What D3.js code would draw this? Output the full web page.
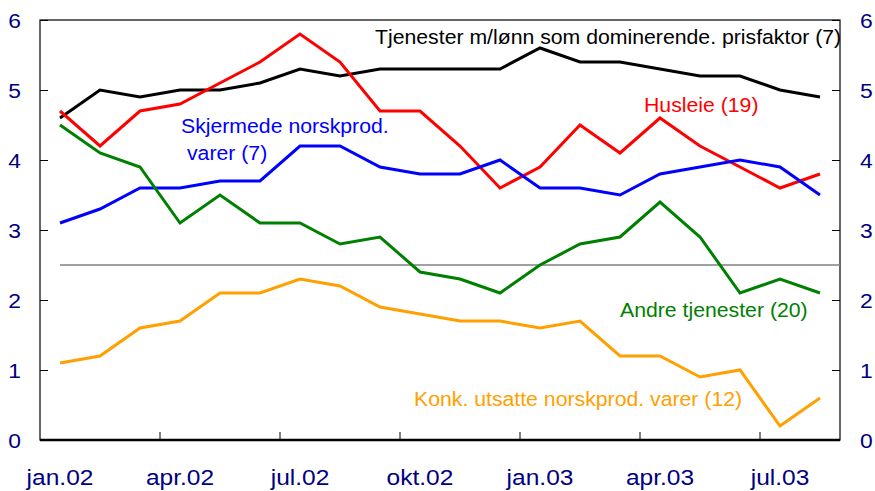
<!DOCTYPE html>
<html>
<head>
<meta charset="utf-8">
<script src="https://cdn.jsdelivr.net/npm/d3@7"></script>
<style>
  body { margin: 0; background: #fff; }
  text { font-family: "Liberation Sans", Arial, sans-serif; }
</style>
</head>
<body>
<div id="wrapper"></div>
<script>
const months = ['jan.02','feb.02','mar.02','apr.02','mai.02','jun.02','jul.02','aug.02','sep.02','okt.02','nov.02','des.02',
                'jan.03','feb.03','mar.03','apr.03','mai.03','jun.03','jul.03','aug.03'];
const tickLabels = ['jan.02','apr.02','jul.02','okt.02','jan.03','apr.03','jul.03'];
const yTicks = [0, 1, 2, 3, 4, 5, 6];
const refLevel = 2.5;

const tjenesterLonn = [4.6,5.0,4.9,5.0,5.0,5.1,5.3,5.2,5.3,5.3,5.3,5.3,5.6,5.4,5.4,5.3,5.2,5.2,5.0,4.9];
const husleie       = [4.7,4.2,4.7,4.8,5.1,5.4,5.8,5.4,4.7,4.7,4.2,3.6,3.9,4.5,4.1,4.6,4.2,3.9,3.6,3.8];
const skjermede     = [3.1,3.3,3.6,3.6,3.7,3.7,4.2,4.2,3.9,3.8,3.8,4.0,3.6,3.6,3.5,3.8,3.9,4.0,3.9,3.5];
const andreTjen     = [4.5,4.1,3.9,3.1,3.5,3.1,3.1,2.8,2.9,2.4,2.3,2.1,2.5,2.8,2.9,3.4,2.9,2.1,2.3,2.1];
const konkUtsatte   = [1.1,1.2,1.6,1.7,2.1,2.1,2.3,2.2,1.9,1.8,1.7,1.7,1.6,1.7,1.2,1.2,0.9,1.0,0.2,0.6];

const series = [
    { values: tjenesterLonn, color: '#000000' },
    { values: husleie,       color: '#ff0000' },
    { values: skjermede,     color: '#0000ff' },
    { values: andreTjen,     color: '#008000' },
    { values: konkUtsatte,   color: '#ffa000' }
];

const labels = [
    { text: 'Tjenester m/lønn som dominerende. prisfaktor (7)', x: 375, y: 44, color: '#000000' },
    { text: 'Husleie (19)', x: 644, y: 112, color: '#ff0000' },
    { text: 'Skjermede norskprod.', x: 181, y: 133, color: '#0000ff' },
    { text: 'varer (7)', x: 187, y: 160, color: '#0000ff' },
    { text: 'Andre tjenester (20)', x: 620, y: 317, color: '#008000' },
    { text: 'Konk. utsatte norskprod. varer (12)', x: 414, y: 406, color: '#ffa000' }
];

const dimensions = {
    width: 875,
    height: 491,
    margin: { top: 20, right: 35, bottom: 51, left: 40 }
};
dimensions.boundWidth = dimensions.width - dimensions.margin.left - dimensions.margin.right;
dimensions.boundHeight = dimensions.height - dimensions.margin.top - dimensions.margin.bottom;

const axisColor = '#000080';
// the original's text is a little wider than Liberation Sans
const stretch = 1.09;
const place = (x, y) => `translate(${x},${y}) scale(${stretch},1)`;

const svg = d3.select('#wrapper')
    .append('svg')
    .attr('width', dimensions.width)
    .attr('height', dimensions.height);

const bounds = svg.append('g')
    .attr('transform', `translate(${dimensions.margin.left},${dimensions.margin.top})`);

const xScale = d3.scaleBand()
    .domain(months)
    .range([0, dimensions.boundWidth])
    .padding(0);

const yScale = d3.scaleLinear()
    .domain([0, 6])
    .range([dimensions.boundHeight, 0]);

const xCenter = m => xScale(m) + xScale.bandwidth() / 2;

// frame
bounds.append('rect')
    .attr('x', 0).attr('y', 0)
    .attr('width', dimensions.boundWidth)
    .attr('height', dimensions.boundHeight)
    .attr('fill', 'none')
    .attr('stroke', '#000')
    .attr('stroke-width', 1.2);

// y axes (inward ticks)
const yLeft = bounds.append('g')
    .call(d3.axisRight(yScale).tickValues(yTicks).tickSize(8).tickFormat(''));
yLeft.select('.domain').remove();

const yRight = bounds.append('g')
    .attr('transform', `translate(${dimensions.boundWidth},0)`)
    .call(d3.axisLeft(yScale).tickValues(yTicks).tickSize(8).tickFormat(''));
yRight.select('.domain').remove();

bounds.selectAll('.ylab-left')
    .data(yTicks)
    .join('text')
    .attr('transform', d => place(-19, yScale(d)))
    .attr('dy', '0.36em')
    .attr('text-anchor', 'end')
    .attr('font-size', 21)
    .attr('fill', axisColor)
    .text(d => d);

bounds.selectAll('.ylab-right')
    .data(yTicks)
    .join('text')
    .attr('transform', d => place(dimensions.boundWidth + 20, yScale(d)))
    .attr('dy', '0.36em')
    .attr('text-anchor', 'start')
    .attr('font-size', 21)
    .attr('fill', axisColor)
    .text(d => d);

// x axis: tick marks at quarter boundaries, labels at month centres
const boundaryMonths = months.filter((m, i) => i > 0 && i % 3 === 0);
bounds.selectAll('.xtick')
    .data(boundaryMonths)
    .join('line')
    .attr('x1', d => xScale(d)).attr('x2', d => xScale(d))
    .attr('y1', dimensions.boundHeight).attr('y2', dimensions.boundHeight - 8)
    .attr('stroke', '#000');

bounds.append('line')
    .attr('x1', 0).attr('x2', dimensions.boundWidth)
    .attr('y1', dimensions.boundHeight).attr('y2', dimensions.boundHeight)
    .attr('stroke', '#000')
    .attr('stroke-width', 2.5);

bounds.selectAll('.xlab')
    .data(tickLabels)
    .join('text')
    .attr('transform', d => place(xCenter(d), dimensions.boundHeight + 45))
    .attr('text-anchor', 'middle')
    .attr('font-size', 22.5)
    .attr('fill', axisColor)
    .text(d => d);

// reference line
bounds.append('line')
    .attr('x1', xCenter(months[0]))
    .attr('x2', dimensions.boundWidth)
    .attr('y1', yScale(refLevel))
    .attr('y2', yScale(refLevel))
    .attr('stroke', '#808080')
    .attr('stroke-width', 1.5);

const lineGenerator = d3.line()
    .x((d, i) => xCenter(months[i]))
    .y(d => yScale(d));

bounds.selectAll('.series')
    .data(series)
    .join('path')
    .attr('d', d => lineGenerator(d.values))
    .attr('fill', 'none')
    .attr('stroke', d => d.color)
    .attr('stroke-width', 3)
    .attr('stroke-linejoin', 'miter');

svg.selectAll('.label')
    .data(labels)
    .join('text')
    .attr('transform', d => place(d.x, d.y))
    .attr('font-size', 19.5)
    .attr('fill', d => d.color)
    .text(d => d.text);
</script>
</body>
</html>
